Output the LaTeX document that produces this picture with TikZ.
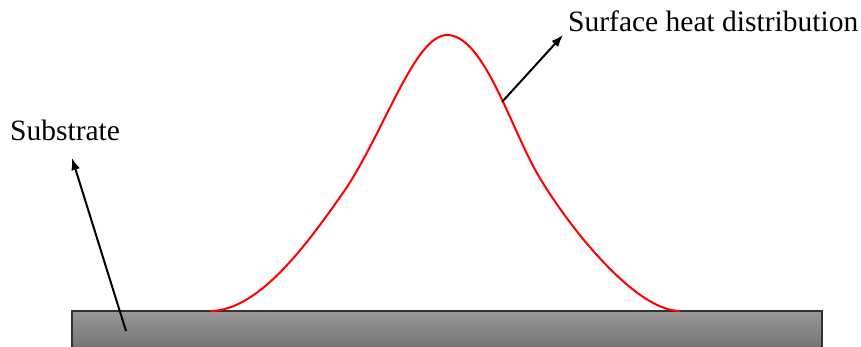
\documentclass[tikz,border=0pt]{standalone}
\usepackage{fontspec}
\setmainfont{Liberation Serif}
\usetikzlibrary{arrows.meta}

\begin{document}
\begin{tikzpicture}[>={Latex[length=12pt,width=9pt]},x=1pt,y=-1pt,
  lbl/.style={font=\fontsize{29.5}{33}\selectfont,inner sep=0pt,anchor=base west},
  pointer/.style={->,line width=2pt}]
  \useasboundingbox (0,0) rectangle (861,347);
  % substrate block
  \begin{scope}
    \clip (0,0) rectangle (861,347);
    \draw[line width=2pt,draw=black!80,top color={rgb,255:red,152;green,152;blue,152},
      bottom color={rgb,255:red,112;green,112;blue,112}] (72,311) rectangle (822,352);
  \end{scope}
  % heat profile
  \draw[red,line width=2pt] (210,311) .. controls (260,311) and (310,240) .. (345,190)
    .. controls (385,130) and (415,35) .. (447,35)
    .. controls (480,35) and (505,110) .. (530,160)
    .. controls (552,205) and (630,311) .. (680,311);
  % labels
  \node[lbl] (sub) at (10,141) {Substrate};
  \node[lbl] (heat) at (568,32) {Surface heat distribution};
  \coordinate (subfoot) at (126,331);
  \coordinate (subtip) at (72,158);
  \coordinate (heatfoot) at (502,102);
  \coordinate (heattip) at (563,35);
  \draw[pointer] (subfoot) -- (subtip);
  \draw[pointer] (heatfoot) -- (heattip);
\end{tikzpicture}
\end{document}
